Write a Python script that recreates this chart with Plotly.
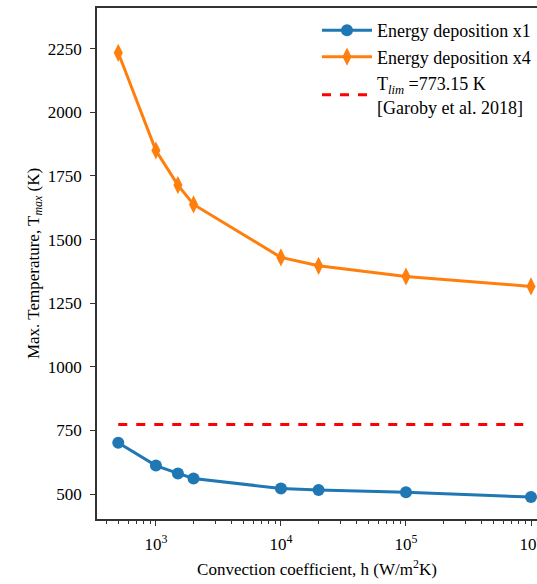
import numpy as np
import plotly.graph_objects as go

h_vals = [500, 1000, 1500, 2000, 1e4, 2e4, 1e5, 1e6]
t_x1 = [702, 612, 581, 561, 522, 516, 507, 488]
t_x4 = [2234, 1850, 1714, 1638, 1430, 1397, 1355, 1316]
t_lim = 773.15
lim_x = [500, 1e6]
x_tickvals = [1e3, 1e4, 1e5, 1e6]
x_ticktext = ["10<sup>3</sup>", "10<sup>4</sup>", "10<sup>5</sup>", "10<sup>6</sup>"]
y_tickvals = [500, 750, 1000, 1250, 1500, 1750, 2000, 2250]
minor_x = [m * 10 ** d for d in range(2, 7) for m in range(2, 10)]

FONT = "Liberation Serif, Times New Roman, serif"

fig = go.Figure()
fig.add_trace(go.Scatter(
    x=h_vals, y=t_x1, mode="lines+markers", name="Energy deposition x1",
    line=dict(color="#1f77b4", width=3),
    marker=dict(symbol="circle", size=12, color="#1f77b4"),
    cliponaxis=False,
))
fig.add_trace(go.Scatter(
    x=h_vals, y=t_x4, mode="lines+markers", name="Energy deposition x4",
    line=dict(color="#ff7f0e", width=3),
    marker=dict(symbol="diamond-tall", size=13, color="#ff7f0e"),
    cliponaxis=False,
))
fig.add_trace(go.Scatter(
    x=lim_x, y=[t_lim, t_lim], mode="lines",
    name="T<sub><i>lim</i></sub> =773.15 K<br>[Garoby et al. 2018]",
    line=dict(color="#ff0000", width=3, dash="dash"),
))

fig.update_layout(
    width=537, height=584,
    margin=dict(l=97, r=0, t=8, b=65, autoexpand=False),
    paper_bgcolor="white", plot_bgcolor="white",
    font=dict(family=FONT, size=17, color="black"),
    showlegend=True,
    legend=dict(x=0.5, y=0.992, xanchor="left", yanchor="top", itemwidth=50,
                bgcolor="rgba(255,255,255,0)", font=dict(size=18, family=FONT)),
    xaxis=dict(
        type="log", range=[np.log10(338), 6.048], automargin=False,
        tickvals=x_tickvals, ticktext=x_ticktext,
        ticks="outside", ticklen=5, tickwidth=1.2, tickcolor="#333",
        ticklabeloverflow="allow", ticklabelstandoff=4,
        showline=True, linecolor="#333", linewidth=1.5, mirror=True,
        showgrid=False, zeroline=False,
        minor=dict(tickmode="array", tickvals=minor_x, ticks="outside",
                   ticklen=3, tickcolor="#333", showgrid=False),
        title=dict(text="Convection coefficient, h (W/m<sup>2</sup>K)", font=dict(size=17), standoff=10),
        tickfont=dict(size=17),
    ),
    yaxis=dict(
        range=[402, 2410], automargin=False,
        tickvals=y_tickvals,
        ticks="outside", ticklen=5, tickwidth=1.2, tickcolor="#333",
        ticklabelstandoff=5,
        showline=True, linecolor="#333", linewidth=1.5,
        showgrid=False, zeroline=False,
        title=dict(text="Max. Temperature, T<sub><i>max</i></sub> (K)", font=dict(size=17), standoff=4),
        tickfont=dict(size=17),
    ),
)

fig.write_html("out.html")
